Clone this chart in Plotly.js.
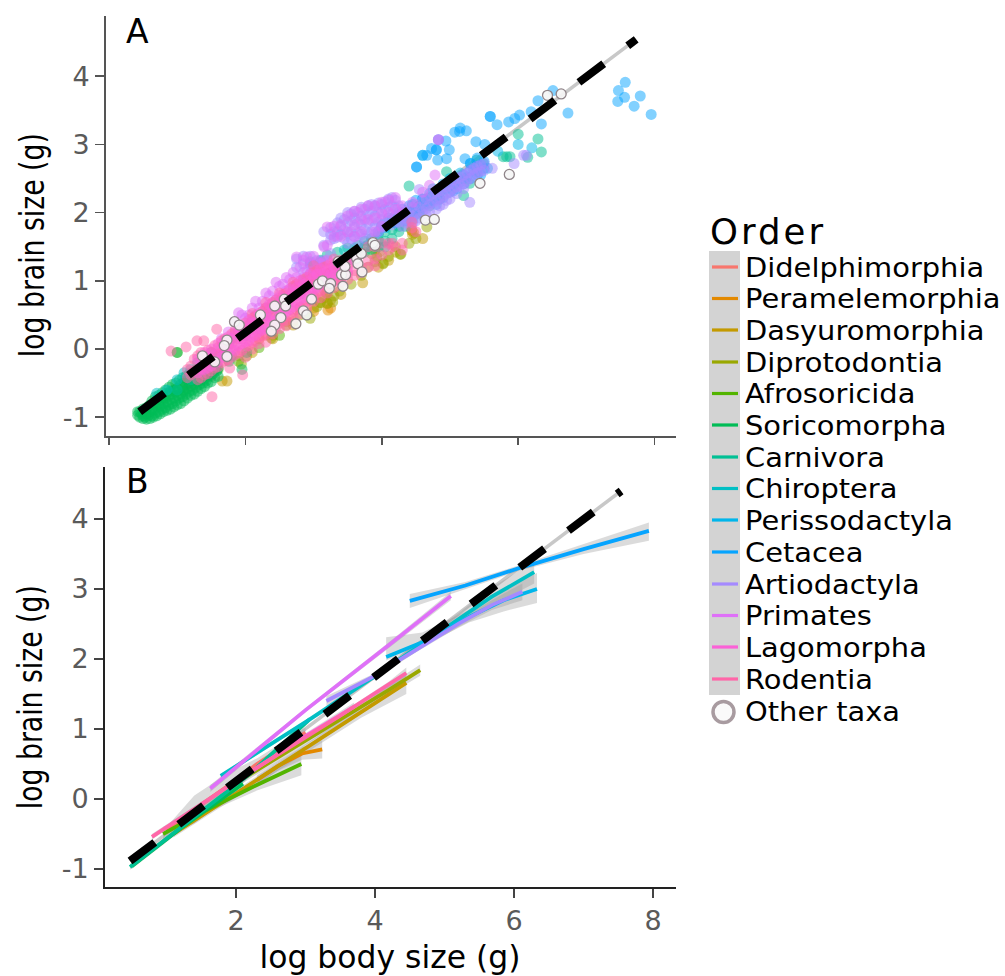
<!DOCTYPE html>
<html><head><meta charset="utf-8"><script src="https://cdn.plot.ly/plotly-3.0.1.min.js"></script>
<style>html,body{margin:0;padding:0;background:#fff}</style></head>
<body><div id="chart" style="width:1005px;height:976px"></div>
<script>
const orders=["Didelphimorphia","Peramelemorphia","Dasyuromorphia","Diprotodontia","Afrosoricida","Soricomorpha","Carnivora","Chiroptera","Perissodactyla","Cetacea","Artiodactyla","Primates","Lagomorpha","Rodentia"];
const colors=["#F8766D","#E38900","#C49A00","#99A800","#53B400","#00BC56","#00C094","#00BFC4","#00B6EB","#06A4FF","#A58AFF","#DF70F8","#FB61D7","#FF66A8"];

// Panel A points: [body, brain] pairs, or [body, [brains]] rows
const ptDidelphimorphia=[[1.5,-.4],[1.9,-.1],[2.3,.2],[2.6,.4],[2.8,.6],[3.0,.75],[1.2,-.55]];
const ptPeramelemorphia=[[2.4,.2],[2.7,.4],[3.0,.55],[3.21,.57],[3.25,.6],[2.2,.15],[4.44,1.74]];
const ptDasyuromorphia=[[1.66,-.47],[1.73,-.47],[2.1,-.05],[2.4,.15],[2.7,.35],[3.0,.6],[3.1,.68],[3.2,.67],[3.25,.72],[3.4,.8],[3.72,.97],[3.95,1.2],[4.1,1.3],[4.2,1.42],[4.45,1.68],[4.44,1.74],[4.47,1.7],[4.6,1.62],[3.15,.75],[3.18,.82]];
const ptDiprotodontia=[[1.94,-.22],[2.02,-.1],[2.38,.16],[2.6,.35],[2.95,.45],[3.1,.68],[3.2,.82],[3.2,.67],[3.28,.69],[3.3,.78],[3.38,.85],[3.55,.95],[3.7,1.08],[3.8,1.2],[3.9,1.28],[3.93,1.35],[4.02,1.26],[4.1,1.36],[4.2,1.5],[4.27,1.39],[4.28,1.39],[4.4,1.55],[4.5,1.62],[4.66,1.79],[3.05,.62],[2.8,.5],[3.85,1.4],[3.9,1.45],[3.96,1.42],[4.02,1.25]];
const ptAfrosoricida=[[.8,-.72],[1.0,-.05],[1.3,-.42],[1.6,-.3],[1.9,-.18],[2.2,.02],[2.5,.2],[2.9,.5],[1.1,-.6]];
const rowsSoricomorpha=[[.42,[-.92,-.97]],[.45,[-.92,-1.0]],[.5,[-.88,-.98,-1.02]],[.55,[-.86,-.95,-1.03]],[.6,[-.82,-.92,-1.02]],[.65,[-.8,-.9,-1.0]],[.7,[-.75,-.85,-.98]],[.75,[-.72,-.84,-.95]],[.8,[-.7,-.8,-.92]],[.85,[-.65,-.78,-.9]],[.9,[-.62,-.74,-.88]],[.95,[-.6,-.72,-.85]],[1.0,[-.05,-.58,-.68,-.82]],[1.05,[-.52,-.66,-.8]],[1.1,[-.48,-.62,-.76]],[1.15,[-.46,-.58,-.72]],[1.2,[-.44,-.54,-.68]],[1.25,[-.4,-.52,-.66]],[1.3,[-.38,-.48,-.62]],[1.35,[-.34,-.46,-.58]],[1.4,[-.3,-.44,-.55]],[1.45,[-.3,-.4,-.5]],[1.5,[-.28,-.38,-.48]],[1.55,[-.3,-.42]],[1.6,[-.28,-.4]],[1.76,[-.18]],[1.95,[-.3]],[2.02,[-.05]],
 [.48,[-.95]],[.53,[-.9,-1.0]],[.58,[-.84,-.97]],[.63,[-.76,-.88,-.98]],[.68,[-.7,-.82,-.94]],[.73,[-.68,-.8,-.92]],[.78,[-.64,-.76,-.88]],[.83,[-.6,-.72,-.86]],[.88,[-.56,-.68,-.82]],[.93,[-.52,-.66,-.8]],[.98,[-.5,-.62,-.76]],[1.03,[-.46,-.6,-.72]],[1.08,[-.42,-.56,-.7]],[1.13,[-.4,-.52,-.66]],[1.18,[-.36,-.5,-.62]],[1.23,[-.34,-.46,-.6]],[1.28,[-.3,-.44,-.56]],[1.33,[-.28,-.4,-.52]],[1.38,[-.26,-.38,-.5]],[1.43,[-.24,-.36,-.46]],[1.48,[-.22,-.34]],[1.53,[-.2,-.36]],[1.58,[-.22,-.32]]];
const rowsCarnivora=[[1.0,[-.6]],[1.2,[-.45]],[1.4,[-.3]],[1.8,[-.1]],[2.0,[.2]],[2.2,[.3]],[2.5,[.5]],[2.8,[.8]],[2.95,[1.28]],[3.0,[.95,1.22]],[3.1,[1.3]],[3.2,[1.1,1.38]],[3.35,[1.15,1.42]],[3.5,[1.3,1.48]],[3.65,[1.45,1.52]],[3.75,[1.5,1.58,1.42]],[3.85,[1.55,1.46,1.62]],[3.95,[1.6,1.5,1.68]],[4.05,[1.72,1.58,1.5]],[4.15,[1.75,1.62,1.9]],[4.25,[1.8,1.72,1.96]],[4.35,[1.95,1.8]],[4.4,[2.39]],[4.45,[2.0,1.9]],[4.55,[2.1,1.98]],[4.7,[2.22,2.1]],[4.85,[2.3,2.2]],[4.95,[2.6]],[5.05,[2.4]],[5.2,[2.25,2.5]],[5.29,[2.43]],[5.39,[2.77,2.6]],[5.49,[2.72]],[5.78,[2.82]],[5.83,[2.82]],[5.88,[2.82]],[6.0,[3.15]],[6.14,[2.81]],[6.29,[3.08]],[6.34,[2.89]]];
const rowsChiroptera=[[.7,[-.65]],[.85,[-.6]],[1.0,[-.45]],[1.1,[-.35]],[1.2,[-.3]],[1.3,[-.2]],[1.4,[-.15]],[1.5,[-.05]],[1.6,[-.1]],[1.7,[.1]],[1.8,[.15]],[1.9,[.25]],[2.0,[.2]],[2.1,[.4]],[2.2,[.45]],[2.3,[.5]],[2.4,[.62]],[2.5,[.7]],[2.6,[.75]],[2.7,[.9]],[2.85,[1.0]],[3.0,[1.1]],[1.35,[-.35]],[1.55,[-.25]],[2.95,[1.25]],[3.1,[1.28]],[3.45,[1.45]],[3.6,[1.48]]];
const rowsPerissodactyla=[[4.0,[1.82]],[4.2,[1.95]],[4.3,[2.0]],[4.45,[2.12]],[4.6,[2.84,2.2]],[4.75,[2.35]],[4.9,[2.42]],[5.0,[2.5]],[5.15,[2.58]],[5.3,[2.72]],[5.45,[2.7]],[5.55,[2.65]],[5.7,[2.9]],[6.0,[3.0]],[6.2,[2.95]]];
const ptCetacea=[[4.51,2.67],[4.51,2.67],[4.6,2.84],[4.66,2.84],[4.73,2.94],[4.8,2.92],[4.8,2.92],[4.82,2.77],[4.83,3.07],[4.94,3.05],[4.95,2.79],[4.99,2.92],[5.07,3.18],[5.14,3.19],[5.15,3.24],[5.24,3.20],[5.22,2.79],[5.38,3.04],[5.51,3.0],[5.59,3.41],[5.59,3.41],[5.69,3.29],[5.86,3.33],[5.95,3.38],[6.02,3.43],[6.19,3.48],[6.29,3.64],[6.34,3.30],[6.51,3.79],[6.73,3.46],[7.46,3.63],[7.47,3.79],[7.56,3.69],[7.57,3.91],[7.70,3.56],[7.79,3.71],[7.95,3.44],[5.3,2.72],[5.4,2.8],[5.0,2.42],[4.15,1.85],[4.25,1.92],[4.35,1.88],[4.45,2.02],[4.55,2.0],[4.65,2.12],[4.75,2.18],[4.85,2.2],[4.95,2.35],[5.05,2.32],[5.15,2.45],[5.25,2.52],[5.35,2.62],[5.45,2.55],
 [3.95,1.72],[4.0,1.8],[4.05,1.78],[4.1,1.92],[4.2,1.85],[4.3,1.95],[4.3,2.05],[4.4,1.95],[4.4,2.1],[4.5,2.05],[4.5,2.18],[4.6,2.08],[4.6,2.2],[4.7,2.15],[4.7,2.28],[4.8,2.12],[4.8,2.3],[4.9,2.22],[4.9,2.35],[5.0,2.3],[5.0,2.45],[5.1,2.35],[5.1,2.5],[5.2,2.42],[5.2,2.55],[5.3,2.5],[5.3,2.62],[5.4,2.55],[5.4,2.68],[5.5,2.65],[5.5,2.75]];
const rowsArtiodactyla=[[2.75,[1.32,1.2]],[2.85,[1.36,1.25,1.12]],[2.95,[1.36,1.22,1.1]],[3.05,[1.3,1.18]],[3.15,[1.3,1.72,1.52]],[3.25,[1.78,1.68,1.6,1.4]],[3.3,[1.72,1.62]],[3.35,[1.85,1.72,1.64]],[3.4,[1.92,1.8,1.68]],[3.45,[1.9,1.75,1.62]],[3.5,[2.0,1.85,1.7,1.55]],[3.55,[1.98,1.88,1.72,1.62]],[3.6,[2.02,1.92,1.78,1.65]],[3.65,[2.0,1.85,1.7,1.55]],[3.7,[2.08,1.95,1.82,1.68]],[3.75,[2.05,1.9,1.75,1.62]],[3.8,[2.1,1.98,1.85,1.7]],[3.85,[2.12,2.02,1.88,1.72]],[3.9,[2.1,1.95,1.8,1.68]],[3.95,[2.14,2.0,1.86,1.72]],[4.0,[2.12,2.02,1.9,1.78]],[4.05,[2.16,2.05,1.88]],[4.1,[2.2,2.08,1.92]],[4.15,[2.22,2.1,1.98,1.82]],[4.2,[2.18,2.08,1.95]],[4.25,[2.1,2.0,1.86]],[4.3,[1.95,1.8]],[4.35,[2.02,1.92,1.85]],[4.4,[2.0,1.88]],[4.45,[2.08,1.95,1.85]],[4.5,[2.12,1.98,1.88]],[4.55,[2.34,2.08,1.92]],[4.6,[2.18,2.02]],[4.65,[2.2,2.06,1.98]],[4.7,[2.25,2.12,2.02]],[4.75,[2.28,2.15]],[4.8,[2.3,2.18,2.05]],[4.85,[2.32,2.2,2.1]],[4.9,[2.4,2.25,2.12]],[4.95,[2.38,2.28,2.18]],[5.0,[2.42,2.3,2.2]],[5.05,[2.48,2.35]],[5.1,[2.5,2.38,2.28]],[5.15,[2.52,2.4]],[5.2,[2.55,2.42,2.35]],[5.25,[2.58,2.46]],[5.29,[2.15]],[5.3,[2.62,2.5]],[5.35,[2.65,2.55]],[5.4,[2.68,2.58]],[5.45,[2.7,2.6]],[5.5,[2.72,2.62]],[5.62,[2.65]],[5.94,[2.72]],[6.08,[2.84]],[6.12,[2.84]],[4.83,[3.07]]];
const rowsPrimates=[[1.65,[.15]],[1.75,[.25]],[1.85,[.4,.25]],[1.9,[.53,.35]],[1.95,[.5,.3]],[2.0,[.45,.3]],[2.05,[.5,.38]],[2.1,[.6,.42]],[2.15,[.7,.5]],[2.2,[.6,.45]],[2.25,[.7,.55]],[2.3,[.82,.6]],[2.35,[.78,.62]],[2.4,[.85,.68]],[2.45,[.98,.72]],[2.5,[.92,.75]],[2.55,[.95,.78]],[2.6,[1.05,.85]],[2.65,[1.02,.88]],[2.7,[1.12,.92]],[2.75,[1.35,1.05]],[2.8,[1.2,1.0]],[2.85,[1.3,1.05]],[2.9,[1.35,1.15]],[2.95,[1.25,1.08]],[3.0,[1.36,1.15]],[3.05,[1.28,1.12]],[3.1,[1.25,1.15]],[3.15,[1.5,1.28]],[3.2,[1.79,1.52,1.3]],[3.3,[1.8,1.65]],[3.4,[1.82,1.65]],[3.5,[1.95,1.72]],[3.6,[2.02,1.82,1.65]],[3.7,[2.05,1.9,1.72]],[3.8,[2.1,1.9]],[3.9,[2.1,1.92,1.72]],[4.0,[2.15,1.98,1.8]],[4.1,[2.18,2.0]],[4.2,[2.22,2.05]],[4.3,[2.1,1.98]],[4.45,[2.15]],[4.6,[2.3]],[4.7,[2.4]],[4.78,[2.55]],[4.83,[3.07]]];
const rowsLagomorpha=[[1.3,[-.15,-.35]],[1.35,[-.2,-.3]],[1.4,[-.05,-.3]],[1.45,[-.12,-.28]],[1.5,[0,-.25]],[1.55,[-.08,-.2]],[1.6,[.08,-.18]],[1.65,[.02,-.12]],[1.7,[.12,-.08]],[1.75,[.18,-.05,.08]],[1.8,[.15,0]],[1.85,[.2,-.02]],[1.9,[.3,.05]],[1.91,[.3]],[1.95,[.25,.08]],[2.0,[.3,.1]],[2.05,[.42,.12,.2]],[2.1,[.38,.18]],[2.15,[.4,.2]],[2.2,[.52,.25,.3]],[2.25,[.45,.28]],[2.3,[.5,.3]],[2.35,[.65,.35,.45]],[2.4,[.6,.4]],[2.45,[.62,.42]],[2.5,[.78,.46,.55]],[2.55,[.7,.5]],[2.6,[.75,.55]],[2.65,[.88,.58,.7]],[2.7,[.82,.62]],[2.75,[.85,.68,.9]],[2.8,[1.0,.72,.8]],[2.85,[.95,.75]],[2.9,[.98,.8]],[2.95,[1.1,.82,.88]],[3.0,[1.05,.86]],[3.05,[1.08,.9,1.1]],[3.1,[1.18,.95,.98]],[3.15,[1.12,.98]],[3.2,[1.15,1.0]],[3.25,[1.25,1.05,1.1]],[3.3,[1.2,1.08]],[3.4,[1.25,1.12,1.2]],[3.5,[1.15]],[3.6,[1.3]]];
const rowsRodentia=[[.91,[-.03]],[1.13,[.03]],[1.29,[.12]],[1.39,[.12]],[1.51,[-.7]],[1.58,[.29]],[1.77,[-.28]],[1.96,[-.38]],[1.15,[-.3,-.42]],[1.2,[-.25,-.38]],[1.25,[-.15,-.32]],[1.3,[-.10,-.30,-.45]],[1.35,[-.05,-.28,-.42]],[1.40,[-.12,-.22,-.38]],[1.45,[-.02,-.2,-.36]],[1.50,[-.05,-.15,-.32]],[1.55,[.05,-.12,-.28]],[1.60,[.02,-.08,-.26]],[1.65,[.12,-.05,-.2]],[1.70,[.15,.0,-.17]],[1.75,[.12,.05,-.16]],[1.80,[.22,.08,-.12]],[1.85,[.28,.05,-.08]],[1.90,[.25,.15,-.05]],[1.95,[.32,.15,-.02]],[2.00,[.38,.2,.02,-.12]],[2.05,[.35,.22,.05]],[2.10,[.45,.28,.1,.0,.52]],[2.15,[.48,.28,.12]],[2.20,[.45,.35,.18,.08]],[2.25,[.55,.35,.2]],[2.30,[.6,.42,.22,.1,.68]],[2.35,[.58,.48,.28]],[2.40,[.68,.48,.3,.22]],[2.45,[.72,.52,.32]],[2.50,[.7,.58,.38,.3,.82]],[2.55,[.8,.6,.42]],[2.60,[.82,.65,.42,.34]],[2.65,[.8,.72,.48]],[2.70,[.92,.7,.55,.45,.98]],[2.75,[.95,.78,.58]],[2.80,[.92,.82,.62,.52]],[2.85,[1.02,.85,.65]],[2.90,[1.05,.9,.7,.6]],[2.95,[1.02,.95,.72]],[3.00,[1.12,.95,.78,.7,1.22]],[3.05,[1.15,1.02,.82]],[3.10,[1.12,1.05,.85,.75]],[3.15,[1.2,1.05,.88]],[3.20,[1.22,1.1,.92,.82]],[3.25,[1.18,1.12,.95]],[3.30,[1.25,1.15,1.0,.9,1.32]],[3.35,[1.28,1.18,1.02]],[3.40,[1.3,1.2,1.05,.98]],[3.50,[1.35,1.22,1.1,1.02]],[3.60,[1.42,1.28,1.15,1.08]],[3.70,[1.4,1.2,1.12]],[3.80,[1.5,1.3,1.2]],[3.90,[1.5,1.32,1.22]],[4.00,[1.55,1.38]],[4.10,[1.45,1.55]],[4.16,[1.55,1.5]],[4.3,[1.45,1.55]],[4.44,[1.86,1.78]],[4.5,[1.72]]];
const ptOther=[[1.37,-.10],[1.55,-.19],[1.73,.13],[1.69,.05],[1.73,-.11],[1.84,.40],[1.91,.35],[2.22,.50],[2.43,.63],[2.57,.73],[2.59,.63],[2.52,.46],[2.43,.35],[2.38,.26],[2.74,.37],[2.85,.56],[2.90,.50],[2.97,.73],[3.07,.95],[3.13,1.0],[3.25,.96],[3.23,.89],[3.43,.92],[3.41,1.09],[3.47,1.09],[3.46,1.21],[3.63,1.33],[3.7,1.4],[3.65,1.25],[3.71,1.13],[3.87,1.56],[3.9,1.52],[3.36,1.28],[4.64,1.89],[4.77,1.90],[5.44,2.43],[5.87,2.56],[6.43,3.72],[6.63,3.74]];
const flat=rows=>rows.flatMap(r=>r[1].map(v=>[r[0],v]));
const pointSets=[ptDidelphimorphia,ptPeramelemorphia,ptDasyuromorphia,ptDiprotodontia,ptAfrosoricida,flat(rowsSoricomorpha),flat(rowsCarnivora),flat(rowsChiroptera),flat(rowsPerissodactyla),ptCetacea,flat(rowsArtiodactyla),flat(rowsPrimates),flat(rowsLagomorpha),flat(rowsRodentia)];
const drawOrder=[0,1,2,3,4,5,6,7,8,9,10,11,13,12];

// Overall allometric fit, panels A and B
const fitAx=[.45,7.73], fitAy=[-.92,4.54];
const fitBx=[.475,7.54], fitBy=[-.886,4.4];

// Panel B within-order fits: [body, fit, lower, upper]
const fitDidelphimorphia=[[1.0,-.45,-.5,-.4],[1.4,-.15,-.35,.05],[1.9,.2,.02,.38],[2.3,.5,.42,.58],[3.0,.95,.88,1.02]];
const fitPeramelemorphia=[[2.3,.27,.2,.34],[2.6,.47,.4,.54],[2.95,.65,.56,.74],[3.24,.71,.58,.84]];
const fitDasyuromorphia=[[1.1,-.5,-.55,-.45],[1.71,-.11,-.16,-.06],[2.86,.63,.57,.69],[3.8,1.24,1.16,1.32],[4.45,1.66,1.5,1.82]];
const fitDiprotodontia=[[1.9,.17,.11,.23],[2.95,.8,.75,.85],[4.2,1.56,1.49,1.63],[4.65,1.84,1.76,1.92]];
const fitAfrosoricida=[[.95,-.5,-.6,-.4],[1.57,-.16,-.2,-.12],[2.3,.2,.12,.28],[2.94,.5,.34,.66]];
const fitSoricomorpha=[[.5,-.96,-1.0,-.92],[1.2,-.42,-.46,-.38],[2.1,.22,.14,.3]];
const fitCarnivoraLow=[[.475,-.97,-1.01,-.93],[1.0,-.56,-.6,-.52],[1.5,-.17,-.2,-.14],[2.2,.36,.33,.39],[3.05,1.13,1.09,1.17]];
const fitChiroptera=[[1.78,.33,.3,.36],[3.05,1.13,1.1,1.16],[3.96,1.73,1.69,1.77],[5.21,2.58,2.5,2.66],[5.68,2.89,2.76,3.02],[6.29,3.24,3.08,3.4]];
const fitPerissodactyla=[[4.16,2.03,1.98,2.31],[4.68,2.24,2.18,2.38],[5.35,2.6,2.52,2.7],[5.85,2.84,2.68,3.0],[6.33,3.0,2.8,3.23]];
const fitCetacea=[[4.5,2.83,2.73,2.93],[5.3,3.05,3.0,3.1],[6.11,3.31,3.27,3.35],[7.0,3.57,3.5,3.64],[7.94,3.83,3.69,3.95]];
const fitArtiodactyla=[[3.3,1.4,1.33,1.47],[3.96,1.74,1.7,1.78],[4.39,2.01,1.98,2.04],[5.21,2.51,2.46,2.56],[5.68,2.77,2.7,2.84],[6.12,2.96,2.84,3.08]];
const fitPrimates=[[1.63,.15,.1,.2],[3,1.27,1.24,1.3],[4.2,2.2,2.16,2.24],[5.09,2.9,2.84,2.96]];
const fitLagomorpha=[[2.2,.38,.34,.42],[3.0,.9,.86,.94],[3.7,1.32,1.26,1.38]];
const fitRodentia=[[.79,-.54,-.58,-.5],[2.29,.44,.41,.47],[3.5,1.19,1.16,1.22],[4.2,1.63,1.58,1.68],[4.45,1.8,1.72,1.88]];
const fitSets=[[fitDidelphimorphia,0],[fitPeramelemorphia,1],[fitDasyuromorphia,2],[fitDiprotodontia,3],[fitAfrosoricida,4],[fitSoricomorpha,5],[fitCarnivoraLow,6],[fitChiroptera,7],[fitPerissodactyla,8],[fitCetacea,9],[fitArtiodactyla,10],[fitPrimates,11],[fitLagomorpha,12],[fitRodentia,13]];

const FONT='"DejaVu Sans", sans-serif';
const traces=[];
function fitPair(xs,ys,xa,ya){
  traces.push({x:xs,y:ys,xaxis:xa,yaxis:ya,mode:'lines',line:{color:'#C8C8C8',width:3.5},hoverinfo:'skip',showlegend:false});
}
function fitDash(xs,ys,xa,ya){
  traces.push({x:xs,y:ys,xaxis:xa,yaxis:ya,mode:'lines',line:{color:'#000',width:8,dash:'31px,30px'},hoverinfo:'skip',showlegend:false});
}
// Panel A
fitPair(fitAx,fitAy,'x','y');
drawOrder.forEach(i=>{const p=pointSets[i];traces.push({x:p.map(d=>d[0]),y:p.map(d=>d[1]),xaxis:'x',yaxis:'y',name:orders[i],mode:'markers',
  marker:{color:colors[i],size:11,opacity:.5,line:{width:0}},showlegend:false});});
traces.push({x:ptOther.map(d=>d[0]),y:ptOther.map(d=>d[1]),xaxis:'x',yaxis:'y',name:'Other taxa',mode:'markers',
  marker:{color:'rgba(245,245,245,.92)',size:10,line:{width:1.3,color:'#8F8489'}},showlegend:false});
fitDash(fitAx,fitAy,'x','y');
// Panel B
fitPair(fitBx,fitBy,'x2','y2');
fitSets.forEach(([f])=>traces.push({x:f.map(d=>d[0]).concat(f.map(d=>d[0]).reverse()),y:f.map(d=>d[3]).concat(f.map(d=>d[2]).reverse()),
  xaxis:'x2',yaxis:'y2',mode:'lines',fill:'toself',fillcolor:'rgba(153,153,153,.35)',line:{width:0},hoverinfo:'skip',showlegend:false}));
fitSets.forEach(([f,i])=>traces.push({x:f.map(d=>d[0]),y:f.map(d=>d[1]),xaxis:'x2',yaxis:'y2',name:orders[i],mode:'lines',line:{color:colors[i],width:3.8},showlegend:false}));
fitDash(fitBx,fitBy,'x2','y2');

const W=1005,H=976;
const ax=(d,c)=>Object.assign({domain:d,showgrid:false,zeroline:false,showline:true,linewidth:2,ticks:'outside',ticklen:9,tickwidth:1.6,
  tickfont:{family:FONT,size:27,color:'#5A5A5A'}},c);
const legendY=[267,298.5,330,362,393.5,425,457,488.5,520,552,584,615.5,647,679];
const shapes=[{type:'rect',xref:'paper',yref:'paper',x0:709/W,x1:740/W,y0:1-251/H,y1:1-695/H,fillcolor:'#D3D3D3',line:{width:0},layer:'below'}];
orders.forEach((o,i)=>shapes.push({type:'line',xref:'paper',yref:'paper',x0:712/W,x1:738/W,y0:1-legendY[i]/H,y1:1-legendY[i]/H,line:{color:colors[i],width:3.2}}));
shapes.push({type:'circle',xref:'paper',yref:'paper',x0:713/W,x1:734/W,y0:1-701.5/H,y1:1-722.5/H,fillcolor:'#FAFAFA',line:{color:'#A89BA0',width:3.5}});
const txt=(text,px,py,size,anchor,extra)=>Object.assign({text,xref:'paper',yref:'paper',x:px/W,y:1-py/H,showarrow:false,xanchor:anchor||'left',yanchor:'middle',font:{family:FONT,size,color:'#000'}},extra||{});
const annotations=[txt('A',137,31,33,'center'),txt('B',137,481,33,'center'),
  txt('log brain size (g)',32,245,34,'center',{textangle:-90}),txt('log brain size (g)',30,697,34,'center',{textangle:-90}),
  txt('log body size (g)',390,957,32.5,'center'),txt('Order',708,231,35.5,'left')];
orders.forEach((o,i)=>annotations.push(txt(o,743,legendY[i],27)));
annotations.push(txt('Other taxa',743,711,27));

const layout={width:W,height:H,margin:{l:0,r:0,t:0,b:0},paper_bgcolor:'#fff',plot_bgcolor:'#fff',showlegend:false,shapes,annotations,
  xaxis:ax([106/W,676/W],{range:[-.044,8.314],tickvals:[0,2,4,6,8],showticklabels:false,anchor:'y',linecolor:'#555',tickcolor:'#555',ticklen:7}),
  yaxis:ax([1-436/H,1-16/H],{range:[-1.276,4.883],tickvals:[-1,0,1,2,3,4],ticktext:['-1','0','1','2','3','4'],anchor:'x',linecolor:'#555',tickcolor:'#555'}),
  xaxis2:ax([105/W,676/W],{range:[.115,8.33],tickvals:[2,4,6,8],anchor:'y2',linecolor:'#222',tickcolor:'#444'}),
  yaxis2:ax([1-887/H,1-467/H],{range:[-1.257,4.743],tickvals:[-1,0,1,2,3,4],ticktext:['-1','0','1','2','3','4'],anchor:'x2',linecolor:'#222',tickcolor:'#444'})};
const fixedLength={'log brain size (g)':224,'log body size (g)':261,'Order':113};
Plotly.newPlot('chart',traces,layout,{displayModeBar:false,staticPlot:true}).then(()=>{
  document.querySelectorAll('.annotation-text').forEach(t=>{
    const s=t.textContent, w=t.getComputedTextLength();
    let target=fixedLength[s];
    const isLegend=orders.includes(s)||s==='Other taxa';
    if(isLegend) target=w*1.07;
    if(!target) return;
    t.setAttribute('textLength',target);
    t.setAttribute('lengthAdjust',s==='Order'?'spacing':'spacingAndGlyphs');
    if(isLegend||s==='Order') t.setAttribute('x',parseFloat(t.getAttribute('x')||0)+(target-w)/2);
  });
});
</script></body></html>
